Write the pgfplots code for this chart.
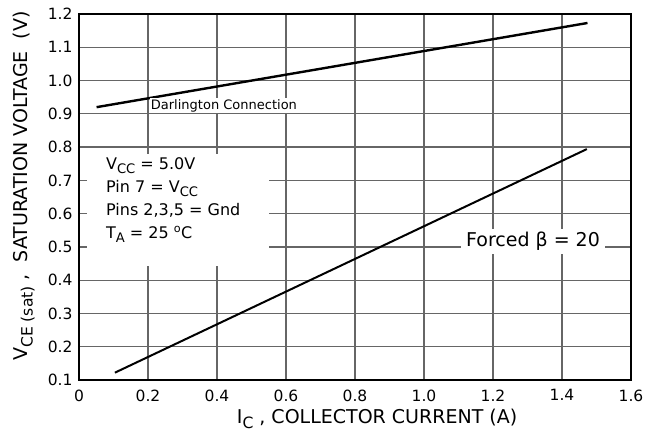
\documentclass[border=0pt]{standalone}
\usepackage{pgfplots}
\pgfplotsset{compat=1.18}
\usepackage{fontspec}
\setmainfont{DejaVu Sans}
\newcommand\sub[1]{\raisebox{-0.45ex}{\scalebox{0.82}{#1}}}
\begin{document}
\begin{tikzpicture}
\begin{axis}[
  width=552pt, height=366pt, scale only axis,
  xmin=0, xmax=1.6, ymin=0.1, ymax=1.2,
  xtick={0,0.2,0.4,0.6,0.8,1.0,1.2,1.4,1.6},
  xticklabels={0,0.2,0.4,0.6,0.8,1.0,1.2,1.4,1.6},
  ytick={0.1,0.2,0.3,0.4,0.5,0.6,0.7,0.8,0.9,1.0,1.1,1.2},
  yticklabels={0.1,0.2,0.3,0.4,0.5,0.6,0.7,0.8,0.9,1.0,1.1,1.2},
  major tick length=0pt,
  grid=major,
  major grid style={black!60, line width=1.2pt},
  axis line style={black, line width=1.3pt},
  /pgf/number format/assume math mode=true,
  tick label style={font=\fontsize{15.5}{18}\selectfont},
  xticklabel style={yshift=-6pt},
  yticklabel style={xshift=-3pt},
  xlabel={I\sub{C} , COLLECTOR CURRENT (A)},
  ylabel={V\sub{CE (sat)} ,\ \ SATURATION VOLTAGE\ \ (V)},
  label style={font=\fontsize{19}{22}\selectfont},
  xlabel style={at={(axis description cs:0.54,0)}, anchor=center, yshift=-39pt},
  ylabel style={at={(axis description cs:0,0.53)}, anchor=center, yshift=55pt},
  clip=false,
]
\coordinate (sw) at (rel axis cs:0,0);
\coordinate (ne) at (rel axis cs:1,1);
\fill[white] (axis cs:0.023,0.443) rectangle (axis cs:0.551,0.779);
\addplot[black, line width=2.4pt] coordinates {(0.051,0.920) (1.474,1.173)};
\addplot[black, line width=2pt] coordinates {(0.104,0.122) (1.472,0.794)};
\node[anchor=north west, align=left, inner sep=0pt, font=\fontsize{16}{23}\selectfont]
  at (axis cs:0.078,0.768)
  {V\sub{CC} = 5.0V\\ Pin 7 = V\sub{CC}\\ Pins 2,3,5 = Gnd\\ T\sub{A} = 25 \textsuperscript{o}C};
\node[fill=white, inner xsep=5pt, inner ysep=3pt, font=\fontsize{19}{22}\selectfont]
  at (axis cs:1.316,0.516) {Forced β = 20};
\node[fill=white, anchor=west, inner xsep=1pt, inner ysep=1pt, font=\fontsize{13}{14}\selectfont]
  at (axis cs:0.205,0.925) {Darlington Connection};
\end{axis}
\pgfresetboundingbox
\path[use as bounding box] ([shift={(-79pt,-57pt)}]sw) rectangle ([shift={(22pt,14pt)}]ne);
\end{tikzpicture}
\end{document}
